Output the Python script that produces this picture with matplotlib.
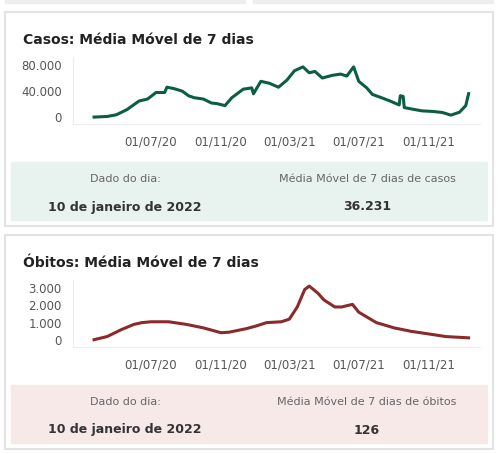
import matplotlib.pyplot as plt
import matplotlib.dates as mdates
import numpy as np
from matplotlib.patches import Rectangle
from matplotlib.ticker import FuncFormatter

case_dates = ["2020-03-23", "2020-04-15", "2020-05-01", "2020-05-20", "2020-06-10", "2020-06-25",
              "2020-07-10", "2020-07-25", "2020-07-29", "2020-08-10", "2020-08-25", "2020-09-05",
              "2020-09-15", "2020-10-01", "2020-10-15", "2020-10-25", "2020-11-08", "2020-11-20",
              "2020-12-10", "2020-12-25", "2020-12-28", "2021-01-10", "2021-01-25", "2021-02-10",
              "2021-02-25", "2021-03-10", "2021-03-25", "2021-04-05", "2021-04-15", "2021-04-28",
              "2021-05-15", "2021-05-30", "2021-06-10", "2021-06-22", "2021-07-01", "2021-07-15",
              "2021-07-25", "2021-08-10", "2021-08-25", "2021-09-10", "2021-09-12", "2021-09-17",
              "2021-09-19", "2021-10-01", "2021-10-20", "2021-11-10", "2021-11-25", "2021-12-10",
              "2021-12-25", "2022-01-05", "2022-01-10"]
case_vals = [500, 1500, 4000, 12000, 25000, 28000, 38000, 38000, 46000, 44000, 40000, 33000,
             30000, 28000, 22000, 21000, 18000, 30000, 43000, 45000, 36000, 55000, 52000, 46000,
             57000, 71000, 77000, 68000, 70000, 60000, 64000, 66000, 63000, 77000, 55000, 45000,
             35000, 30000, 25000, 19000, 33000, 32000, 15000, 13000, 10000, 9000, 7500, 3500,
             8000, 18000, 36231]

death_dates = ["2020-03-23", "2020-04-15", "2020-05-10", "2020-06-01", "2020-06-15", "2020-07-01",
               "2020-08-01", "2020-09-01", "2020-10-01", "2020-11-01", "2020-11-15", "2020-12-15",
               "2021-01-01", "2021-01-20", "2021-02-15", "2021-03-01", "2021-03-15", "2021-03-28",
               "2021-04-05", "2021-04-20", "2021-05-01", "2021-05-20", "2021-06-01", "2021-06-20",
               "2021-07-01", "2021-08-01", "2021-09-01", "2021-10-01", "2021-11-01", "2021-12-01",
               "2022-01-10"]
death_vals = [20, 200, 600, 900, 1000, 1050, 1050, 900, 700, 420, 450, 650, 800, 1000, 1050, 1200,
              1900, 2900, 3100, 2700, 2300, 1900, 1900, 2050, 1600, 1000, 700, 500, 350, 200, 126]

xticks = ["2020-07-01", "2020-11-01", "2021-03-01", "2021-07-01", "2021-11-01"]

W, H = 499, 454
fig = plt.figure(figsize=(W / 100, H / 100), dpi=100)
plt.rcParams['font.family'] = ['Verdana', 'DejaVu Sans']

def px(x, y, w, h):
    return [x / W, 1 - (y + h) / H, w / W, h / H]

def rect(x, y, w, h, **kw):
    fig.patches.append(Rectangle((x / W, 1 - (y + h) / H), w / W, h / H, transform=fig.transFigure, **kw))

fmt = FuncFormatter(lambda v, p: f"{int(v):,}".replace(",", "."))

# top strip of cut-off panels
rect(5, 0, 240, 3, color="#eeeeee")
rect(253, 0, 240, 3, color="#eeeeee")

panels = [
    dict(y0=12, title="Casos: Média Móvel de 7 dias", dates=case_dates, vals=case_vals,
         color="#0b5e43", bg="#e8f2ef", ylim=(-10000, 92000), yt=[0, 40000, 80000],
         label="Média Móvel de 7 dias de casos", value="36.231"),
    dict(y0=235, title="Óbitos: Média Móvel de 7 dias", dates=death_dates, vals=death_vals,
         color="#8b2a2a", bg="#f7e9e8", ylim=(-400, 3450), yt=[0, 1000, 2000, 3000],
         label="Média Móvel de 7 dias de óbitos", value="126"),
]

for p in panels:
    y0 = p["y0"]
    rect(5, y0, 488, 214, fill=False, edgecolor="#e3e3e3", lw=1.5)
    fig.text(23 / W, 1 - (y0 + 28) / H, p["title"], fontsize=10, fontweight="bold", color="#222222", va="center")
    ax = fig.add_axes(px(73, y0 + 45, 407, 67))
    d = np.array(p["dates"], dtype="datetime64[D]")
    ax.plot(d, p["vals"], color=p["color"], lw=2.2)
    ax.set_ylim(*p["ylim"])
    ax.set_xlim(np.datetime64("2020-02-15"), np.datetime64("2022-01-30"))
    ax.set_yticks(p["yt"])
    ax.yaxis.set_major_formatter(fmt)
    ax.set_xticks(np.array(xticks, dtype="datetime64[D]"))
    ax.xaxis.set_major_formatter(mdates.DateFormatter("%d/%m/%y"))
    for s in ["top", "right"]:
        ax.spines[s].set_visible(False)
    for s in ["left", "bottom"]:
        ax.spines[s].set_color("#eeeeee")
    ax.tick_params(length=0, labelsize=8.5, labelcolor="#555555", pad=8)
    ax.set_facecolor("none")
    rect(11, y0 + 150, 476, 58, color=p["bg"])
    fig.text(125 / W, 1 - (y0 + 167) / H, "Dado do dia:", fontsize=8, color="#666666", ha="center", va="center")
    fig.text(367 / W, 1 - (y0 + 167) / H, p["label"], fontsize=8, color="#666666", ha="center", va="center")
    fig.text(125 / W, 1 - (y0 + 195) / H, "10 de janeiro de 2022", fontsize=9, fontweight="bold", color="#333333", ha="center", va="center")
    fig.text(367 / W, 1 - (y0 + 195) / H, p["value"], fontsize=9, fontweight="bold", color="#333333", ha="center", va="center")

fig.savefig("out.png", dpi=100)
